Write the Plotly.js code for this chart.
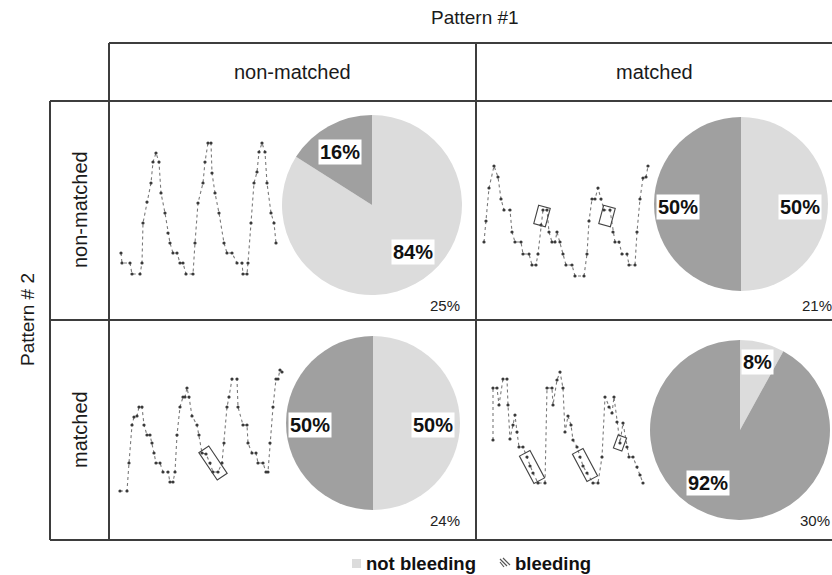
<!DOCTYPE html>
<html><head><meta charset="utf-8">
<script src="https://cdn.plot.ly/plotly-3.0.1.min.js"></script>
<style>html,body{margin:0;padding:0;background:#fff;}#chart{width:832px;height:575px;}</style>
</head><body><div id="chart"></div>
<script>
// ---------------- DATA ----------------
const categories = ["not bleeding", "bleeding"];
const pattern1Labels = ["non-matched", "matched"];   // columns
const pattern2Labels = ["non-matched", "matched"];   // rows
// panel order: [row non-matched/col non-matched, row non-matched/col matched, row matched/col non-matched, row matched/col matched]
const notBleedingPct = [84, 50, 50, 8];
const bleedingPct    = [16, 50, 50, 92];
const shareOfCases   = [25, 21, 24, 30];

// example recordings (time, level) per panel
const tlTime  = [5.5,6,10,11,15,16,16.5,18.5,20.5,21.5,23,24.5,25.5,27.5,29,30,31.5,33.5,35,36.5,38,41.5,42.5,44,46.5,47.5,49,50.5,51,52.5,54.5,57,58.5,61,63.5,66,66.5,68.5,69,70.5,72,73.5,74.5,76,77.5,78.5,80.5,82,83];
const tlLevel = [6.7,5.7,5.7,4.6,4.6,5.7,9.7,11.8,13.7,15.8,16.7,15.8,12.7,10.7,8.7,7.7,6.7,6.7,5.7,5.7,4.6,4.6,7.7,11.7,13.7,15.8,17.7,17.7,14.7,12.7,10.7,7.7,6.7,6.7,5.7,5.7,4.6,4.6,5.7,9.7,13.7,14.8,16.8,17.7,16.8,13.7,10.7,9.7,7.7];

const trTime  = [3.5,4.5,6,8.5,10.5,12,13.5,16.5,17.5,19,22,23,26,27.5,29.5,30.5,32,33,35,36,37.5,39,40,41.5,43,44.5,47.5,49,53.5,55,56,57.5,59,60.5,62,63.5,66.5,68,69,71,72.5,75,76,79,80,81.5,83,84.5,85.5];
const trLevel = [7.8,9.9,13.2,15.4,14.3,12.1,11,11,8.8,7.8,7.8,6.6,6.6,5.5,5.5,6.6,9.5,11,11,8.8,7.8,7.8,8.8,7.8,6.6,5.5,5.5,4.4,4.4,6.6,9.9,12.1,12.1,13.2,12.1,11,11,8.8,7.8,7.8,6.6,6.6,5.5,5.5,8.8,12.1,14.2,14.3,15.4];

const blTime  = [5,8.5,9.5,11,12,13.5,14.5,16,17,18.5,20,21,22,23,25,26.5,29,30,31.5,32.5,33.5,35,36.5,37.5,38.5,39.5,41,43.5,44.5,46,48,50,51.5,54,56,57,58.5,59.5,61,63.5,64,66.5,68.5,69,71,73,74,76.5,78,79,80,81.5,83,84,85,86];
const blLevel = [4.9,4.9,7.7,11.5,12.3,12.4,13.3,13.3,11.5,10.5,10.5,9.7,8.7,7.7,7.7,6.8,6.8,5.8,5.8,6.8,10.5,13.3,14.3,14.3,15.2,14.3,12.4,11.5,10.5,8.7,8.6,7.7,6.8,6.8,7.7,9.7,13.3,14.3,16.1,16.1,13.3,11.5,11.5,9.7,8.7,8.7,7.7,7.7,6.8,6.8,9.7,13.3,16.1,16.1,17,16.8];

const brTime  = [8,8,10,11,13,15,15.5,16.5,18,19,20,21,23,25,26.5,28,30.5,34,35,37.5,38,40,41.5,43,44,45.5,47,48,50,51.5,53,55,58,60.5,62.5,64,66,67.5,68.5,70,71.5,73,75,76,78,80,81.5,83];
const brLevel = [10,15.2,15.2,13.5,16.1,16.1,13.5,10.1,11.5,12.5,10.8,9.3,9.3,8.3,7.4,6.7,5.7,5.7,15.2,15.2,13.5,16,16.8,15.2,10.8,12.4,11.5,10,9.3,8.3,7.4,6.7,5.7,5.7,8.3,14.3,13.3,12.7,14.3,11.8,9.7,11.7,9.3,8.3,8.3,7.3,6.5,5.7];

// marked bleeding episodes (time, level) per panel
const trEpisodeTime = [32.5, 65];   const trEpisodeLevel = [10.4, 10.4];
const blEpisodeTime = [51.5];       const blEpisodeLevel = [7.7];
const brEpisodeTime = [27.5, 54, 71.5]; const brEpisodeLevel = [7.3, 7.5, 9.7];

// ---------------- LAYOUT ----------------
const W = 832, H = 575;
const PX = p => p / W, PY = p => 1 - p / H;
const FONT = "Liberation Sans, Arial, sans-serif";
const LIGHT = "#dcdcdc", DARK = "#a0a0a0";

const panels = [
  {left:110, right:476, top:100, bottom:320, t:tlTime, l:tlLevel, et:[], el:[], box:{w:12,h:18,a:15},
   pie:{cx:372, cy:205, r:90}, lab:[[413,252],[340,152]], corner:[445,305]},
  {left:477, right:832, top:100, bottom:320, t:trTime, l:trLevel, et:trEpisodeTime, el:trEpisodeLevel, box:{w:12,h:19,a:15},
   pie:{cx:741, cy:204, r:87}, lab:[[800,207],[678,207]], corner:[817,305]},
  {left:110, right:476, top:320, bottom:540, t:blTime, l:blLevel, et:blEpisodeTime, el:blEpisodeLevel, box:{w:12,h:33,a:-34},
   pie:{cx:373, cy:423, r:87}, lab:[[433,425],[310,425]], corner:[445,520]},
  {left:477, right:832, top:320, bottom:540, t:brTime, l:brLevel, et:brEpisodeTime, el:brEpisodeLevel, box:[{w:12,h:31,a:-28},{w:12,h:31,a:-28},{w:9,h:14,a:20}],
   pie:{cx:740, cy:430, r:90}, lab:[[757,362],[708,483]], corner:[815,520]}
];
const pctValues = [notBleedingPct, bleedingPct];

const data = [];
const layout = {
  width: W, height: H, margin:{l:0,r:0,t:0,b:0},
  paper_bgcolor:"#fff", plot_bgcolor:"rgba(0,0,0,0)",
  showlegend:false, font:{family:FONT, color:"#222"},
  annotations:[], shapes:[]
};
const note = (x, y, text, font, extra) => layout.annotations.push(Object.assign({
  xref:"paper", yref:"paper", x:PX(x), y:PY(y), xanchor:"center", yanchor:"middle",
  text, showarrow:false, font}, extra || {}));

panels.forEach((p, i) => {
  const k = i + 1, xs = "x" + (k > 1 ? k : ""), ys = "y" + (k > 1 ? k : "");
  const xr = [0, (p.right - p.left) / 2], yr = [0, (p.bottom - p.top) / 10];
  layout["xaxis" + (k > 1 ? k : "")] = {domain:[PX(p.left), PX(p.right)], range:xr, visible:false, fixedrange:true};
  layout["yaxis" + (k > 1 ? k : "")] = {domain:[PY(p.bottom), PY(p.top)], range:yr, visible:false, fixedrange:true};
  // recording trace
  data.push({type:"scatter", mode:"lines+markers", x:p.t, y:p.l, xaxis:xs, yaxis:ys,
    line:{color:"#7a7a7a", width:1.1, dash:"dot"}, marker:{size:3.2, color:"#3a3a3a"}, hoverinfo:"skip", cliponaxis:false});
  // episode boxes (rotated rectangles around marked points)
  const toPx = (t, l) => [p.left + (t - xr[0]) / (xr[1] - xr[0]) * (p.right - p.left),
                          p.bottom - (l - yr[0]) / (yr[1] - yr[0]) * (p.bottom - p.top)];
  p.et.forEach((t, j) => {
    const b = Array.isArray(p.box) ? p.box[j] : p.box;
    const [cx, cy] = toPx(t, p.el[j]);
    const a = b.a * Math.PI / 180;
    const pts = [[-b.w/2,-b.h/2],[b.w/2,-b.h/2],[b.w/2,b.h/2],[-b.w/2,b.h/2]].map(([x, y]) =>
      [cx + x*Math.cos(a) - y*Math.sin(a), cy + x*Math.sin(a) + y*Math.cos(a)]);
    const path = pts.map((q, m) => (m ? "L" : "M") + PX(q[0]).toFixed(5) + "," + PY(q[1]).toFixed(5)).join(" ") + " Z";
    layout.shapes.push({type:"path", xref:"paper", yref:"paper", path, line:{color:"#444", width:1.1}});
  });
  // pie
  const pie = p.pie;
  data.push({type:"pie", labels:categories, values:[notBleedingPct[i], bleedingPct[i]],
    marker:{colors:[LIGHT, DARK], line:{width:0}}, sort:false, direction:"clockwise", rotation:0,
    textinfo:"none", hoverinfo:"label+percent",
    domain:{x:[PX(pie.cx - pie.r), PX(pie.cx + pie.r)], y:[PY(pie.cy + pie.r), PY(pie.cy - pie.r)]}});
  // pie labels
  p.lab.forEach((pos, c) => note(pos[0], pos[1], pctValues[c][i] + "%",
    {family:FONT, size:20, color:"#111", weight:"bold"}, {bgcolor:"#fff", borderpad:1}));
  note(p.corner[0], p.corner[1], shareOfCases[i] + "%", {family:FONT, size:15, color:"#222"});
});

// table grid
const lineStyle = {color:"#3d3d3d", width:2};
const seg = (x0, y0, x1, y1) => layout.shapes.push({type:"line", xref:"paper", yref:"paper",
  x0:PX(x0), y0:PY(y0), x1:PX(x1), y1:PY(y1), line:lineStyle});
seg(109, 43, 832, 43);
seg(50, 101, 832, 101);
seg(50, 320, 832, 320);
seg(50, 540, 832, 540);
seg(109, 43, 109, 540);
seg(476, 43, 476, 540);
seg(50, 101, 50, 540);

// headers
const hfont = s => ({family:FONT, size:s, color:"#1a1a1a"});
note(475, 18, "Pattern #1", hfont(19));
note(292, 72, pattern1Labels[0], hfont(20));
note(654, 72, pattern1Labels[1], hfont(20));
note(27, 320, "Pattern # 2", hfont(19), {textangle:-90});
note(80, 210, pattern2Labels[0], hfont(20), {textangle:-90});
note(80, 430, pattern2Labels[1], hfont(20), {textangle:-90});

// legend (manual)
layout.shapes.push({type:"rect", xref:"paper", yref:"paper", x0:PX(352), x1:PX(361), y0:PY(568), y1:PY(559),
  fillcolor:LIGHT, line:{width:0}});
layout.shapes.push({type:"path", xref:"paper", yref:"paper",
  path:[[500,559,507,566],[503,558,510,565],[500,562,504,567]].map(s => "M" + PX(s[0]) + "," + PY(s[1]) + " L" + PX(s[2]) + "," + PY(s[3])).join(" "),
  line:{color:"#555", width:1.2}});
note(364, 563, categories[0], {family:FONT, size:18.5, color:"#111", weight:"bold"}, {xanchor:"left"});
note(513, 563, categories[1], {family:FONT, size:18.5, color:"#111", weight:"bold"}, {xanchor:"left"});

Plotly.newPlot("chart", data, layout, {displayModeBar:false, staticPlot:true});
</script></body></html>
